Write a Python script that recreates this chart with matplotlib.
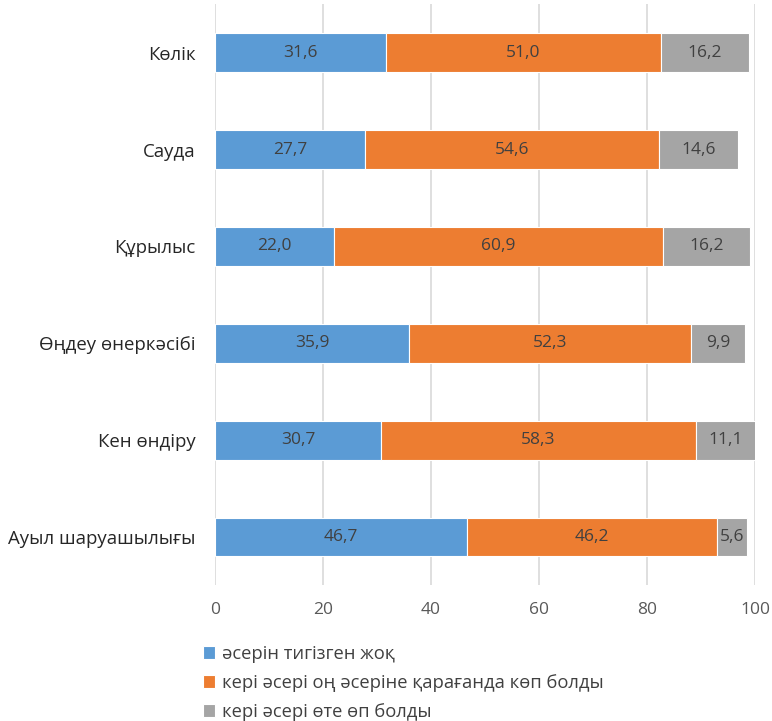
import matplotlib.pyplot as plt
import numpy as np
from matplotlib.ticker import MultipleLocator

plt.rcParams['font.family'] = ['Open Sans', 'DejaVu Sans']

categories = ["Ауыл шаруашылығы", "Кен өндіру", "Өңдеу өнеркәсібі",
              "Құрылыс", "Сауда", "Көлік"]
no_effect = [46.7, 30.7, 35.9, 22.0, 27.7, 31.6]
more_negative = [46.2, 58.3, 52.3, 60.9, 54.6, 51.0]
very_negative = [5.6, 11.1, 9.9, 16.2, 14.6, 16.2]

series_names = ["әсерін тигізген жоқ",
                "кері әсері оң әсеріне қарағанда көп болды",
                "кері әсері өте өп болды"]
colors = ["#5B9BD5", "#ED7D31", "#A5A5A5"]


def main():
    fig = plt.figure(figsize=(7.72, 7.21), dpi=100)
    ax = fig.add_axes([0.2785, 0.188, 0.6995, 0.806])

    y = np.arange(len(categories))
    left = np.zeros(len(categories))
    handles = []
    for vals, name, c in zip([no_effect, more_negative, very_negative], series_names, colors):
        bars = ax.barh(y, vals, left=left, height=0.4, color=c,
                       edgecolor="white", linewidth=0.8, label=name, zorder=3)
        handles.append(bars)
        for yi, l, v in zip(y, left, vals):
            ax.text(l + v / 2, yi, f"{v:.1f}".replace(".", ","), ha="center", va="center",
                    fontsize=12.5, color="#404040", zorder=4)
        left = left + np.array(vals)

    ax.set_ylim(-0.5, len(categories) - 0.5)
    ax.set_xlim(0, 100)
    ax.xaxis.set_major_locator(MultipleLocator(20))
    ax.set_yticks(y)
    ax.set_yticklabels(categories)
    ax.grid(axis="x", color="#D9D9D9", linewidth=1.2, zorder=0)
    for s in ax.spines.values():
        s.set_visible(False)
    ax.tick_params(axis="both", length=0, labelsize=12.5, colors="#595959")
    ax.tick_params(axis="y", labelcolor="#262626", labelsize=13.4, pad=14)
    ax.tick_params(axis="x", pad=12)

    fig.legend(handles=handles, labels=series_names, loc="upper left",
               bbox_to_anchor=(0.253, 0.116), frameon=False, fontsize=13.2,
               handlelength=0.7, handleheight=0.7, handletextpad=0.35,
               labelspacing=0.6, borderaxespad=0, labelcolor="#404040")

    fig.savefig("out.png", dpi=100)


if __name__ == "__main__":
    main()
